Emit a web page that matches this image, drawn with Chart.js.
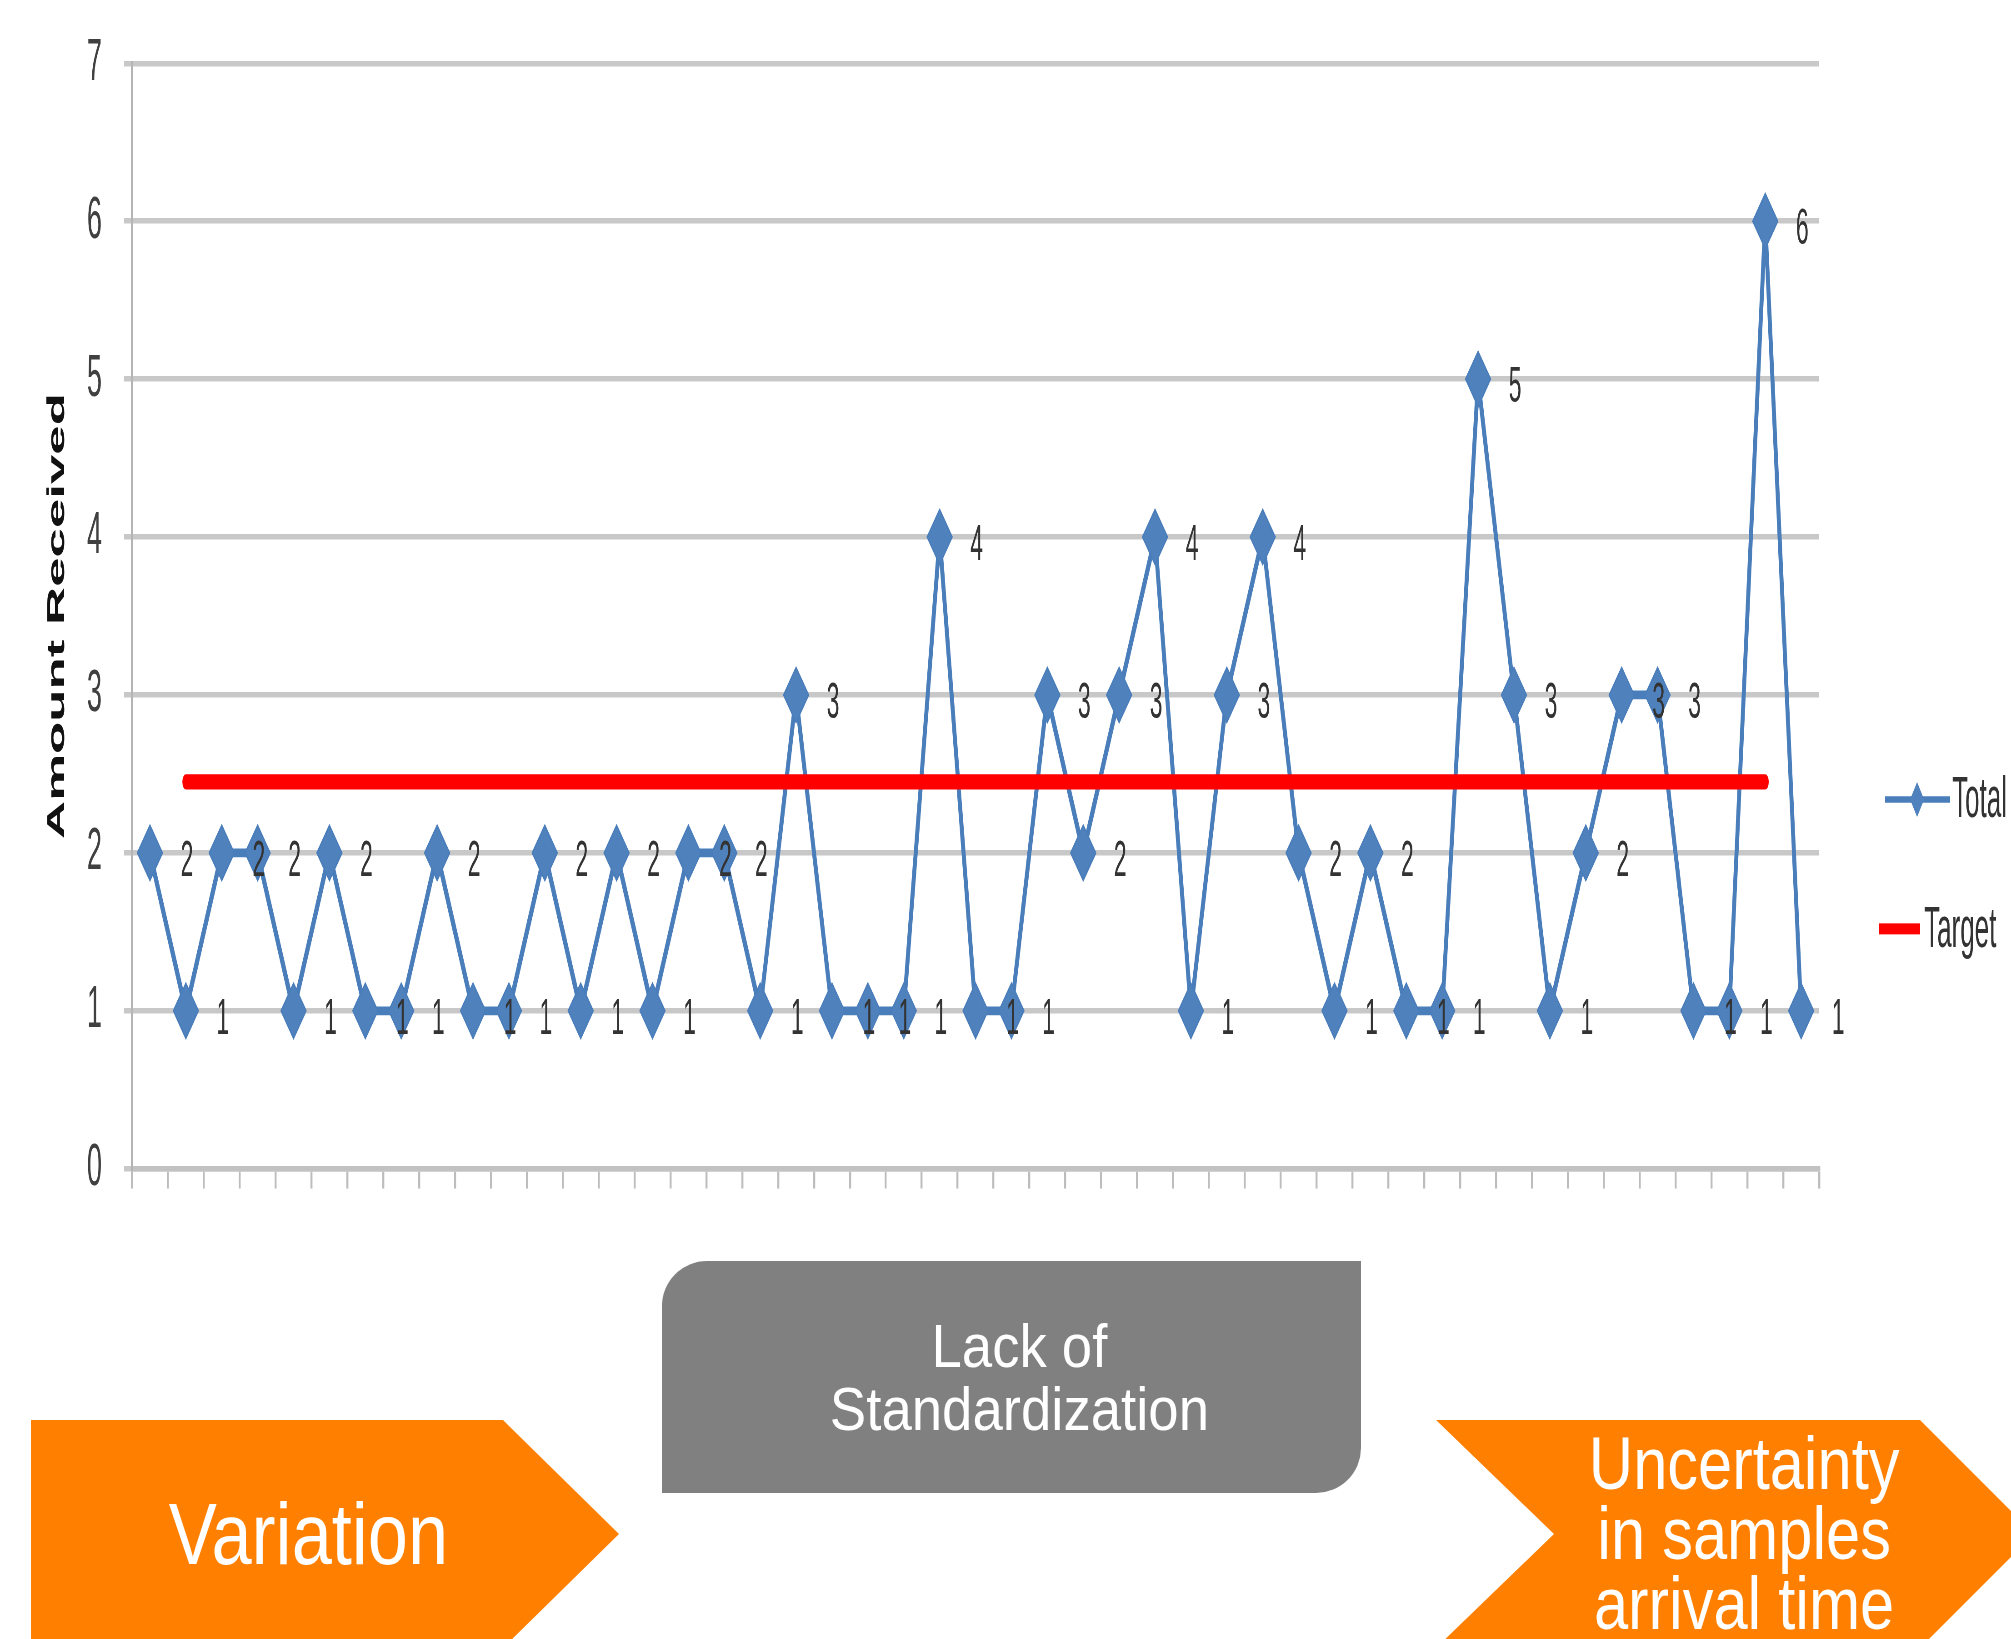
<!DOCTYPE html>
<html>
<head>
<meta charset="utf-8">
<script src="https://cdn.jsdelivr.net/npm/chart.js@4/dist/chart.umd.min.js"></script>
<style>
  html, body { margin: 0; padding: 0; background: #fff; }
  body { width: 2011px; height: 1639px; overflow: hidden; position: relative; }
  /* the source picture is stretched vertically, so the chart is drawn flat and scaled */
  #wrap { position: absolute; left: 0; top: 0; width: 2011px; height: 560px; transform: scaleY(2.2); transform-origin: 0 0; }
  .orange { position: absolute; background: #ff8000; }
  #variation { left: 31px; top: 1420px; width: 588px; height: 228px; clip-path: polygon(0 0, 472px 0, 588px 114px, 472px 228px, 0 228px); }
  #uncertainty { left: 1436px; top: 1420px; width: 600px; height: 228px; clip-path: polygon(0 0, 484px 0, 598px 114px, 484px 228px, 0 228px, 118px 114px); }
  #lack { position: absolute; left: 662px; top: 1261px; width: 699px; height: 232px; background: #808080; border-radius: 45px 0 45px 0; }
  .txt { position: absolute; display: flex; align-items: center; justify-content: center; text-align: center;
         font-family: "Liberation Sans", Arial, sans-serif; color: #fff; }
  .txt span { display: inline-block; }
</style>
</head>
<body>
<div id="wrap"><canvas id="chart"></canvas></div>

<div id="variation" class="orange"></div>
<div id="uncertainty" class="orange"></div>
<div id="lack"></div>

<div class="txt" style="left:31px; top:1420px; width:555px; height:228px; font-size:88px;"><span style="transform:scaleX(0.82)">Variation</span></div>
<div class="txt" style="left:678px; top:1261px; width:683px; height:232px; font-size:62px; line-height:63px;"><span style="transform:scaleX(0.88)">Lack of<br>Standardization</span></div>
<div class="txt" style="left:1554px; top:1420px; width:380px; height:228px; font-size:74px; line-height:70px;"><span style="transform:scaleX(0.83)">Uncertainty<br>in samples<br>arrival time</span></div>

<script>
// valeurs
const samples = ['1','2','3','4','5','6','7','8','9','10','11','12','13','14','15','16','17','18','19','20',
                 '21','22','23','24','25','26','27','28','29','30','31','32','33','34','35','36','37','38','39','40',
                 '41','42','43','44','45','46','47'];

const totalValues = [2, 1, 2, 2, 1, 2, 1, 1, 2, 1, 1, 2, 1, 2, 1, 2, 2, 1,
                     3, 1, 1, 1, 4, 1, 1, 3, 2, 3, 4, 1, 3, 4, 2, 1,
                     2, 1, 1, 5, 3, 1, 2, 3, 3, 1, 1, 6, 1];

// la ligne rouge commence après le 1er point et s'arrête avant le dernier
const targetValues = [null, 2.45, 2.45, 2.45, 2.45, 2.45, 2.45, 2.45, 2.45, 2.45, 2.45, 2.45, 2.45, 2.45, 2.45, 2.45,
                      2.45, 2.45, 2.45, 2.45, 2.45, 2.45, 2.45, 2.45, 2.45, 2.45, 2.45, 2.45, 2.45, 2.45, 2.45,
                      2.45, 2.45, 2.45, 2.45, 2.45, 2.45, 2.45, 2.45, 2.45, 2.45, 2.45, 2.45, 2.45, 2.45, 2.45, null];

const yMin = 0;
const yMax = 7;

const BLUE = '#4a7ebb';
const RED = '#ff0000';
const FONT = '"Liberation Sans", Arial, sans-serif';

// étiquettes de valeur à droite de chaque point
const valueLabels = {
    id: 'valueLabels',
    afterDatasetsDraw(chart) {
        const ctx = chart.ctx;
        const meta = chart.getDatasetMeta(1);
        ctx.save();
        ctx.font = '23px ' + FONT;
        ctx.fillStyle = '#333333';
        ctx.textAlign = 'center';
        ctx.textBaseline = 'middle';
        meta.data.forEach(function (pt, i) {
            ctx.fillText(String(totalValues[i]), pt.x + 37, pt.y + 4);
        });
        ctx.restore();
    }
};

// légende dessinée à la main (ligne + losange)
const sideLegend = {
    id: 'sideLegend',
    afterDraw(chart) {
        const ctx = chart.ctx;
        const a = chart.chartArea;
        const h = a.bottom - a.top;
        const y1 = a.top + h * 0.666;
        const y2 = a.top + h * 0.783;
        ctx.save();
        ctx.strokeStyle = BLUE;
        ctx.lineWidth = 3;
        ctx.beginPath();
        ctx.moveTo(a.right + 66, y1);
        ctx.lineTo(a.right + 131, y1);
        ctx.stroke();
        ctx.fillStyle = '#4f81bd';
        ctx.beginPath();
        const cx = a.right + 98;
        ctx.moveTo(cx, y1 - 8);
        ctx.lineTo(cx + 7, y1);
        ctx.lineTo(cx, y1 + 8);
        ctx.lineTo(cx - 7, y1);
        ctx.closePath();
        ctx.fill();

        ctx.fillStyle = RED;
        ctx.fillRect(a.right + 60, y2 - 2.5, 41, 5);

        ctx.font = '26px ' + FONT;
        ctx.fillStyle = '#333333';
        ctx.textBaseline = 'middle';
        ctx.fillText('Total', a.right + 133, y1 + 1);
        ctx.fillText('Target', a.right + 105, y2 + 1);
        ctx.restore();
    }
};

const ctx = document.getElementById('chart');

new Chart(ctx, {
    type: 'line',
    data: {
        labels: samples,
        datasets: [{
            label: 'Target',
            data: targetValues,
            borderColor: RED,
            backgroundColor: RED,
            borderWidth: 7,
            borderCapStyle: 'round',
            pointRadius: 0,
            fill: false,
            order: 0
        }, {
            label: 'Total',
            data: totalValues,
            borderColor: BLUE,
            backgroundColor: '#4f81bd',
            borderWidth: 4,
            pointStyle: 'rectRot',
            pointRadius: 12.5,
            pointBorderWidth: 1,
            pointBorderColor: BLUE,
            pointBackgroundColor: '#4f81bd',
            tension: 0,
            fill: false,
            order: 1
        }]
    },
    options: {
        responsive: true,
        maintainAspectRatio: false,
        devicePixelRatio: 2.2,
        animation: false,
        events: [],
        layout: { autoPadding: false, padding: { top: 20, right: 192, bottom: 0, left: 0 } },
        plugins: {
            legend: { display: false },
            tooltip: { enabled: false }
        },
        scales: {
            x: {
                offset: true,
                afterFit(scale) { scale.height = 27; },
                ticks: { display: false },
                grid: {
                    offset: true,
                    drawOnChartArea: false,
                    drawTicks: true,
                    tickLength: 9,
                    color: '#bdbdbd',
                    lineWidth: 2
                },
                border: { display: true, color: '#c2c2c2', width: 2.5 }
            },
            y: {
                min: yMin,
                max: yMax,
                afterFit(scale) { scale.width = 132; },
                ticks: {
                    stepSize: 1,
                    padding: 22,
                    color: '#404040',
                    font: { family: FONT, size: 27, lineHeight: 0.5 }
                },
                grid: {
                    color: '#c8c8c8',
                    lineWidth: 2.5,
                    tickLength: 8
                },
                border: { display: true, color: '#b4b4b4', width: 2 },
                title: {
                    display: true,
                    text: 'Amount Received',
                    color: '#111',
                    font: { family: FONT, size: 24, weight: 'bold' },
                    padding: { top: 43, bottom: 0 }
                }
            }
        }
    },
    plugins: [valueLabels, sideLegend]
});
</script>
</body>
</html>
